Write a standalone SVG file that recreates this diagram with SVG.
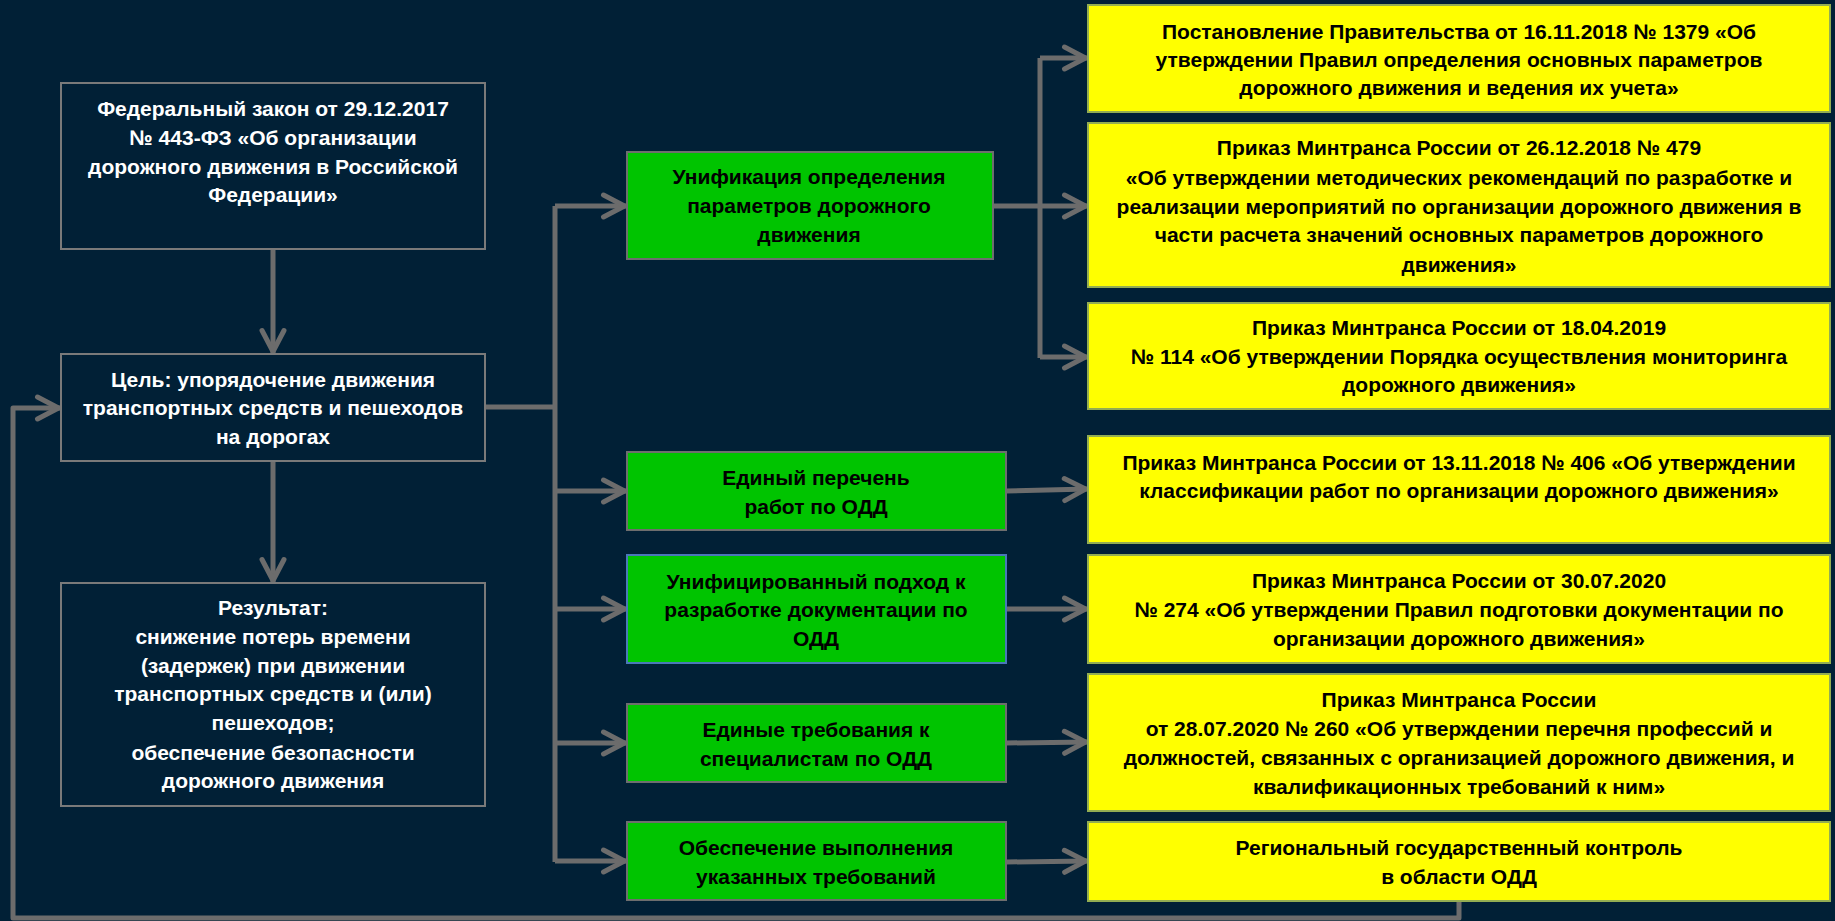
<svg xmlns="http://www.w3.org/2000/svg" width="1835" height="921" viewBox="0 0 1835 921">
<defs>
<style>
.bg{fill:#012036}
.dark{fill:#012036;stroke:#7a7a7a;stroke-width:2}
.green{fill:#00c400;stroke:#6e6e6e;stroke-width:2}
.greenb{fill:#00c400;stroke:#4a78b8;stroke-width:2}
.yellow{fill:#ffff00;stroke:#93ad52;stroke-width:2}
text{font-family:"Liberation Sans",Arial,sans-serif;font-weight:bold;font-size:21px;text-anchor:middle}
.w{fill:#ffffff}
.k{fill:#000000}
.c{fill:none;stroke:#6c6c6c;stroke-width:5;stroke-linejoin:round}
.a{marker-end:url(#arr)}
</style>
<marker id="arr" markerUnits="userSpaceOnUse" viewBox="-26 -16 32 32" markerWidth="32" markerHeight="32" refX="2.5" refY="0" orient="auto" overflow="visible">
<path d="M-21,-11 L0,0 L-21,11" fill="none" stroke="#6c6c6c" stroke-width="5" stroke-linecap="round" stroke-linejoin="round"/>
</marker>
</defs>
<rect class="bg" x="0" y="0" width="1835" height="921"/>

<g id="connectors">
<path class="c a" d="M273,249 V354"/>
<path class="c a" d="M273,461 V583"/>
<path class="c" d="M485,407 H555"/>
<path class="c" d="M555,206 V862"/>
<path class="c a" d="M555,206 H627"/>
<path class="c a" d="M555,491 H627"/>
<path class="c a" d="M555,609 H627"/>
<path class="c a" d="M555,743 H627"/>
<path class="c a" d="M555,861 H627"/>
<path class="c" d="M993,206 H1040"/>
<path class="c" d="M1040,58 V358"/>
<path class="c a" d="M1040,58 H1088"/>
<path class="c a" d="M1040,206 H1088"/>
<path class="c a" d="M1040,357 H1088"/>
<path class="c a" d="M1006,491 L1088,489"/>
<path class="c a" d="M1006,609 H1088"/>
<path class="c a" d="M1006,743 L1088,742"/>
<path class="c a" d="M1006,862 L1088,861"/>
<path class="c a" d="M1459,901 V918 H13 V408 H61"/>
</g>

<g id="law">
<rect class="dark" x="61" y="83" width="424" height="166"/>
<text class="w" x="273" y="116">Федеральный закон от 29.12.2017</text>
<text class="w" x="273" y="145">№ 443-ФЗ «Об организации</text>
<text class="w" x="273" y="174">дорожного движения в Российской</text>
<text class="w" x="273" y="202">Федерации»</text>
</g>

<g id="goal">
<rect class="dark" x="61" y="354" width="424" height="107"/>
<text class="w" x="273" y="387">Цель: упорядочение движения</text>
<text class="w" x="273" y="415">транспортных средств и пешеходов</text>
<text class="w" x="273" y="444">на дорогах</text>
</g>

<g id="result">
<rect class="dark" x="61" y="583" width="424" height="223"/>
<text class="w" x="273" y="615">Результат:</text>
<text class="w" x="273" y="644">снижение потерь времени</text>
<text class="w" x="273" y="673">(задержек) при движении</text>
<text class="w" x="273" y="701">транспортных средств и (или)</text>
<text class="w" x="273" y="730">пешеходов;</text>
<text class="w" x="273" y="760">обеспечение безопасности</text>
<text class="w" x="273" y="788">дорожного движения</text>
</g>

<g id="g1">
<rect class="green" x="627" y="152" width="366" height="107"/>
<text class="k" x="809" y="184">Унификация определения</text>
<text class="k" x="809" y="213">параметров дорожного</text>
<text class="k" x="809" y="242">движения</text>
</g>

<g id="g2">
<rect class="green" x="627" y="452" width="379" height="78"/>
<text class="k" x="816" y="485">Единый перечень</text>
<text class="k" x="816" y="514">работ по ОДД</text>
</g>

<g id="g3">
<rect class="greenb" x="627" y="555" width="379" height="108"/>
<text class="k" x="816" y="589">Унифицированный подход к</text>
<text class="k" x="816" y="617">разработке документации по</text>
<text class="k" x="816" y="646">ОДД</text>
</g>

<g id="g4">
<rect class="green" x="627" y="704" width="379" height="78"/>
<text class="k" x="816" y="737">Единые требования к</text>
<text class="k" x="816" y="766">специалистам по ОДД</text>
</g>

<g id="g5">
<rect class="green" x="627" y="822" width="379" height="78"/>
<text class="k" x="816" y="855">Обеспечение выполнения</text>
<text class="k" x="816" y="884">указанных требований</text>
</g>

<g id="y1">
<rect class="yellow" x="1088" y="5" width="742" height="107"/>
<text class="k" x="1459" y="39">Постановление Правительства от 16.11.2018 № 1379 «Об</text>
<text class="k" x="1459" y="67">утверждении Правил определения основных параметров</text>
<text class="k" x="1459" y="95">дорожного движения и ведения их учета»</text>
</g>

<g id="y2">
<rect class="yellow" x="1088" y="123" width="742" height="164"/>
<text class="k" x="1459" y="155">Приказ Минтранса России от 26.12.2018 № 479</text>
<text class="k" x="1459" y="185">«Об утверждении методических рекомендаций по разработке и</text>
<text class="k" x="1459" y="214">реализации мероприятий по организации дорожного движения в</text>
<text class="k" x="1459" y="242">части расчета значений основных параметров дорожного</text>
<text class="k" x="1459" y="272">движения»</text>
</g>

<g id="y3">
<rect class="yellow" x="1088" y="303" width="742" height="106"/>
<text class="k" x="1459" y="335">Приказ Минтранса России от 18.04.2019</text>
<text class="k" x="1459" y="364">№ 114 «Об утверждении Порядка осуществления мониторинга</text>
<text class="k" x="1459" y="392">дорожного движения»</text>
</g>

<g id="y4">
<rect class="yellow" x="1088" y="436" width="742" height="107"/>
<text class="k" x="1459" y="470">Приказ Минтранса России от 13.11.2018 № 406 «Об утверждении</text>
<text class="k" x="1459" y="498">классификации работ по организации дорожного движения»</text>
</g>

<g id="y5">
<rect class="yellow" x="1088" y="555" width="742" height="108"/>
<text class="k" x="1459" y="588">Приказ Минтранса России от 30.07.2020</text>
<text class="k" x="1459" y="617">№ 274 «Об утверждении Правил подготовки документации по</text>
<text class="k" x="1459" y="646">организации дорожного движения»</text>
</g>

<g id="y6">
<rect class="yellow" x="1088" y="674" width="742" height="137"/>
<text class="k" x="1459" y="707">Приказ Минтранса России</text>
<text class="k" x="1459" y="736">от 28.07.2020 № 260 «Об утверждении перечня профессий и</text>
<text class="k" x="1459" y="765">должностей, связанных с организацией дорожного движения, и</text>
<text class="k" x="1459" y="794">квалификационных требований к ним»</text>
</g>

<g id="y7">
<rect class="yellow" x="1088" y="822" width="742" height="79"/>
<text class="k" x="1459" y="855">Региональный государственный контроль</text>
<text class="k" x="1459" y="884">в области ОДД</text>
</g>
</svg>
